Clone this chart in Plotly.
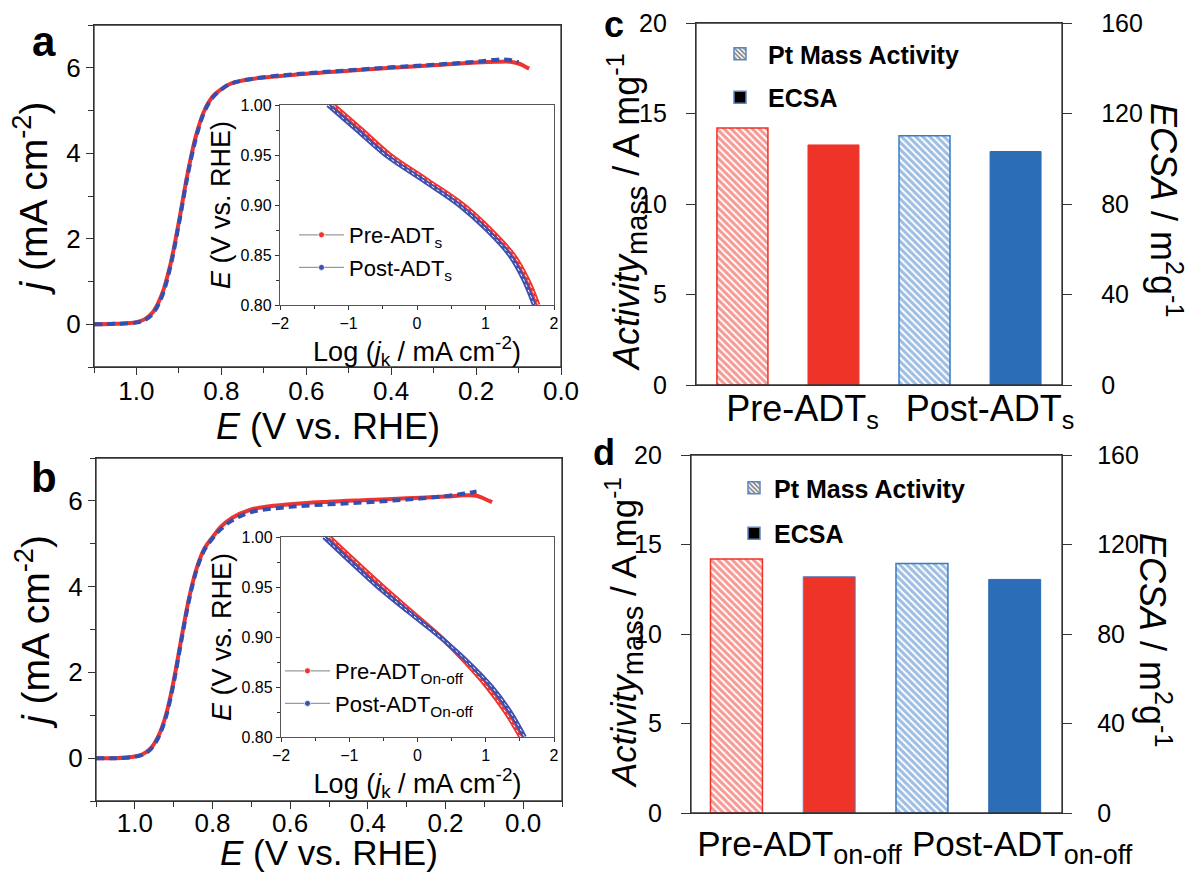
import plotly.graph_objects as go

FONT = "Liberation Sans, Arial, sans-serif"
RED = "#ee3430"
BLUE = "#3350b0"
BAR_RED = "#ee3329"
BAR_BLUE = "#2b6db6"
HATCH_BLUE = "#3b7cc6"
TAFEL_BLUE = "#3e4fae"
AX = "#333333"

# ---------------- Panel a: ORR polarisation curves ----------------
E_a_pre = [1.10, 1.05, 1.00, 0.98, 0.96, 0.94, 0.92, 0.90, 0.88, 0.86, 0.84, 0.82, 0.80,
           0.78, 0.75, 0.70, 0.60, 0.50, 0.40, 0.30, 0.20, 0.15, 0.12, 0.10, 0.085, 0.075]
j_a_pre = [0.00, 0.01, 0.05, 0.12, 0.30, 0.70, 1.40, 2.40, 3.50, 4.40, 5.00, 5.33, 5.50,
           5.62, 5.70, 5.77, 5.86, 5.93, 6.00, 6.06, 6.12, 6.14, 6.14, 6.10, 6.03, 5.98]
E_a_post = [1.10, 1.05, 1.00, 0.98, 0.96, 0.94, 0.92, 0.90, 0.88, 0.86, 0.84, 0.82, 0.80,
            0.78, 0.75, 0.70, 0.60, 0.50, 0.40, 0.30, 0.20, 0.15, 0.12, 0.10]
j_a_post = [0.00, 0.01, 0.04, 0.10, 0.27, 0.65, 1.35, 2.35, 3.45, 4.35, 4.97, 5.31, 5.49,
            5.62, 5.70, 5.78, 5.87, 5.94, 6.01, 6.07, 6.14, 6.19, 6.18, 6.13]

# inset a: Tafel plots
logj_a_pre = [-1.22, -0.80, -0.39, 0.15, 0.68, 1.08, 1.41, 1.62, 1.77]
E_tafel_a_pre = [1.000, 0.975, 0.950, 0.925, 0.900, 0.875, 0.850, 0.825, 0.800]
logj_a_post = [-1.30, -0.88, -0.46, 0.08, 0.61, 1.02, 1.35, 1.56, 1.71]
E_tafel_a_post = [1.000, 0.975, 0.950, 0.925, 0.900, 0.875, 0.850, 0.825, 0.800]

# ---------------- Panel b ----------------
E_b_pre = [1.10, 1.05, 1.00, 0.98, 0.96, 0.94, 0.92, 0.90, 0.88, 0.86, 0.84, 0.82, 0.80,
           0.78, 0.75, 0.70, 0.60, 0.50, 0.40, 0.30, 0.20, 0.15, 0.12, 0.10, 0.08]
j_b_pre = [0.00, 0.00, 0.04, 0.09, 0.22, 0.50, 1.00, 1.80, 2.80, 3.75, 4.45, 4.90, 5.15,
           5.38, 5.60, 5.80, 5.92, 5.98, 6.02, 6.06, 6.10, 6.13, 6.12, 6.05, 5.97]
E_b_post = [1.10, 1.05, 1.00, 0.98, 0.96, 0.94, 0.92, 0.90, 0.88, 0.86, 0.84, 0.82, 0.80,
            0.78, 0.75, 0.70, 0.60, 0.50, 0.40, 0.30, 0.20, 0.15, 0.12]
j_b_post = [0.00, 0.00, 0.03, 0.08, 0.20, 0.47, 0.96, 1.75, 2.75, 3.70, 4.42, 4.87, 5.12,
            5.33, 5.54, 5.74, 5.86, 5.92, 5.97, 6.03, 6.11, 6.17, 6.22]

logj_b_pre = [-1.29, -0.90, -0.50, -0.08, 0.34, 0.70, 1.02, 1.29, 1.51]
E_tafel_b_pre = [1.000, 0.975, 0.950, 0.925, 0.900, 0.875, 0.850, 0.825, 0.800]
logj_b_post = [-1.37, -0.98, -0.58, -0.13, 0.33, 0.74, 1.09, 1.36, 1.57]
E_tafel_b_post = [1.000, 0.975, 0.950, 0.925, 0.900, 0.875, 0.850, 0.825, 0.800]

# ---------------- Panels c, d: bars ----------------
slot_mass = [0, 2]
slot_ecsa = [1, 3]
c_mass = [14.2, 13.77]          # A mg^-1
c_ecsa = [106.1, 103.2]         # m2 g^-1
d_mass = [14.19, 13.94]
d_ecsa = [105.6, 104.4]
c_labels = ["Pre-ADT<sub>s</sub>", "Post-ADT<sub>s</sub>"]
d_labels = ["Pre-ADT<sub><span style='font-size:27px'>on-off</span></sub>",
            "Post-ADT<sub><span style='font-size:27px'>on-off</span></sub>"]
c_label_pos = [0.66, 2.72]
d_label_pos = [0.68, 3.08]

W, H = 1194, 872


def px_x(a, b):
    return [a / W, b / W]


def px_y(top, bottom):
    return [1 - bottom / H, 1 - top / H]


fig = go.Figure()

# ---- LSV traces ----
for E, j, col, dash, xa, ya in [
    (E_a_pre, j_a_pre, RED, None, "x", "y"),
    (E_a_post, j_a_post, BLUE, "8px,5px", "x", "y"),
    (E_b_pre, j_b_pre, RED, None, "x3", "y3"),
    (E_b_post, j_b_post, BLUE, "8px,5px", "x3", "y3"),
]:
    fig.add_trace(go.Scatter(x=E, y=j, mode="lines", line=dict(color=col, width=4, dash=dash, shape="spline"),
                             xaxis=xa, yaxis=ya, showlegend=False, hoverinfo="skip"))

# ---- Tafel insets ----
for lj, E, col, xa, ya in [
    (logj_a_pre, E_tafel_a_pre, RED, "x2", "y2"),
    (logj_a_post, E_tafel_a_post, TAFEL_BLUE, "x2", "y2"),
    (logj_b_pre, E_tafel_b_pre, RED, "x4", "y4"),
    (logj_b_post, E_tafel_b_post, TAFEL_BLUE, "x4", "y4"),
]:
    fig.add_trace(go.Scatter(x=lj, y=E, mode="lines", line=dict(color=col, width=4.5, shape="spline"),
                             xaxis=xa, yaxis=ya, showlegend=False))
    fig.add_trace(go.Scatter(x=lj, y=E, mode="lines", line=dict(color="white", width=1, dash="dot", shape="spline"),
                             xaxis=xa, yaxis=ya, showlegend=False, hoverinfo="skip"))

# inset legends
for name, col, leg, xa, ya, grp in [
    ("Pre-ADT<sub>s</sub>", RED, "legend", "x2", "y2", "g1"),
    ("Post-ADT<sub>s</sub>", TAFEL_BLUE, "legend", "x2", "y2", "g2"),
    ("Pre-ADT<sub>On-off</sub>", RED, "legend2", "x4", "y4", "g1"),
    ("Post-ADT<sub>On-off</sub>", TAFEL_BLUE, "legend2", "x4", "y4", "g2"),
]:
    fig.add_trace(go.Scatter(x=[None], y=[None], mode="lines+markers", name=name,
                             line=dict(color="#9a9a9a", width=1.2),
                             marker=dict(color=col, size=6, line=dict(color="white", width=0.8)),
                             xaxis=xa, yaxis=ya, legend=leg, legendgroup=grp))


# ---- bar panels ----
def add_bars(mass, ecsa, xa, yl, yr, leg, ecsa_edge):
    fig.add_trace(go.Bar(x=slot_mass[:1], y=mass[:1], width=0.56, xaxis=xa, yaxis=yl, showlegend=False,
                         marker=dict(color="white", line=dict(color=BAR_RED, width=1.5),
                                     pattern=dict(shape="\\", fgcolor=BAR_RED, bgcolor="white", size=5, solidity=0.6))))
    fig.add_trace(go.Bar(x=slot_mass[1:], y=mass[1:], width=0.56, xaxis=xa, yaxis=yl, showlegend=False,
                         marker=dict(color="white", line=dict(color=HATCH_BLUE, width=1.5),
                                     pattern=dict(shape="\\", fgcolor=HATCH_BLUE, bgcolor="white", size=5, solidity=0.6))))
    fig.add_trace(go.Bar(x=slot_ecsa[:1], y=ecsa[:1], width=0.56, xaxis=xa, yaxis=yr, showlegend=False,
                         marker=dict(color=BAR_RED, line=dict(color=ecsa_edge or BAR_RED, width=1))))
    fig.add_trace(go.Bar(x=slot_ecsa[1:], y=ecsa[1:], width=0.56, xaxis=xa, yaxis=yr, showlegend=False,
                         marker=dict(color=BAR_BLUE, line=dict(color=BAR_BLUE, width=1))))
    # legend entries
    fig.add_trace(go.Bar(x=[None], y=[None], name="<b>Pt Mass Activity</b>", xaxis=xa, yaxis=yl, legend=leg,
                         legendgroup="m",
                         marker=dict(color="white", line=dict(color="#5b86c4", width=1.5),
                                     pattern=dict(shape="\\", fgcolor="black", bgcolor="white", size=4, solidity=0.5))))
    fig.add_trace(go.Bar(x=[None], y=[None], name="<b>ECSA</b>", xaxis=xa, yaxis=yl, legend=leg,
                         legendgroup="e",
                         marker=dict(color="black", line=dict(color="#5b86c4", width=1.5))))


add_bars(c_mass, c_ecsa, "x5", "y5", "y6", "legend3", None)
add_bars(d_mass, d_ecsa, "x6", "y7", "y8", "legend4", "#5b7fc0")

base_axis = dict(showline=True, linecolor=AX, linewidth=1.3, mirror=True, showgrid=False, zeroline=False,
                 ticks="outside", tickcolor=AX, tickwidth=1.3, automargin=False)

main_font = dict(family=FONT, size=26, color="black")
bar_tick = dict(family=FONT, size=25, color="black")
title_font = dict(family=FONT, size=39, color="black")
inset_tick = dict(family=FONT, size=16, color="black")
inset_title = dict(family=FONT, size=27, color="black")
act_title = "<i>Activity</i><sub><span style='font-size:29px'>mass</span></sub> / A mg<sup>-1</sup>"
ecsa_title = "<i>ECSA</i> / m<sup>2</sup>g<sup>-1</sup>"
E_title = "<i>E</i> (V vs. RHE)"


def ann(text, x, y, size, angle=0, bold=False):
    return dict(text=f"<b>{text}</b>" if bold else text, x=x / W, y=1 - y / H, xref="paper", yref="paper",
                xanchor="center", yanchor="middle", showarrow=False, textangle=angle,
                font=dict(family=FONT, size=size, color="black"))


layout = dict(
    width=W, height=H, margin=dict(l=0, r=0, t=0, b=0, autoexpand=False),
    paper_bgcolor="white", plot_bgcolor="rgba(0,0,0,0)",
    font=dict(family=FONT, color="black"),
    barmode="overlay",
    # panel a
    xaxis=dict(base_axis, domain=px_x(94, 561), anchor="y", range=[1.1, 0.0], dtick=0.2, tick0=0,
               tickformat=".1f", ticklen=7, tickfont=main_font, ticklabelstandoff=-6,
               minor=dict(dtick=0.1, ticks="outside", ticklen=5, tickcolor=AX)),
    yaxis=dict(base_axis, domain=px_y(25, 367), anchor="x", range=[-1, 7], dtick=2, tick0=0, ticklen=7,
               tickfont=main_font, minor=dict(dtick=1, ticks="outside", ticklen=5, tickcolor=AX),
               title=dict(text="<i>j</i> (mA cm<sup>-2</sup>)", font=title_font, standoff=6)),
    # inset a
    xaxis2=dict(base_axis, domain=px_x(280, 554), anchor="y2", range=[-2, 2], dtick=1, ticklen=4,
                linecolor="#555", tickfont=inset_tick, minor=dict(dtick=0.5, ticks="outside", ticklen=3),
                title=dict(text="Log (<i>j</i><sub>k</sub> / mA cm<sup>-2</sup>)", font=inset_title, standoff=0)),
    yaxis2=dict(base_axis, domain=px_y(105, 305), anchor="x2", range=[0.80, 1.00], dtick=0.05,
                tickformat=".2f", ticklen=4, linecolor="#555", tickfont=inset_tick,
                minor=dict(dtick=0.025, ticks="outside", ticklen=3),
                title=dict(text=E_title, font=inset_title, standoff=2)),
    # panel b
    xaxis3=dict(base_axis, domain=px_x(96, 562), anchor="y3", range=[1.1, -0.1], dtick=0.2, tick0=0,
                tickformat=".1f", ticklen=7, tickfont=main_font, ticklabelstandoff=-8,
                minor=dict(dtick=0.1, ticks="outside", ticklen=5, tickcolor=AX)),
    yaxis3=dict(base_axis, domain=px_y(458, 801), anchor="x3", range=[-1, 7], dtick=2, tick0=0, ticklen=7,
                tickfont=main_font, minor=dict(dtick=1, ticks="outside", ticklen=5, tickcolor=AX),
                title=dict(text="<i>j</i> (mA cm<sup>-2</sup>)", font=title_font, standoff=6)),
    # inset b
    xaxis4=dict(base_axis, domain=px_x(281, 554), anchor="y4", range=[-2, 2], dtick=1, ticklen=4,
                linecolor="#555", tickfont=inset_tick, minor=dict(dtick=0.5, ticks="outside", ticklen=3),
                title=dict(text="Log (<i>j</i><sub>k</sub> / mA cm<sup>-2</sup>)", font=inset_title, standoff=0)),
    yaxis4=dict(base_axis, domain=px_y(537, 737), anchor="x4", range=[0.80, 1.00], dtick=0.05,
                tickformat=".2f", ticklen=4, linecolor="#555", tickfont=inset_tick,
                minor=dict(dtick=0.025, ticks="outside", ticklen=3),
                title=dict(text=E_title, font=inset_title, standoff=2)),
    # panel c
    xaxis5=dict(showline=True, linecolor=AX, linewidth=1.3, mirror=True, showgrid=False, zeroline=False,
                automargin=False, domain=px_x(696, 1062), anchor="y5", range=[-0.51, 3.51], ticks="", ticklen=0,
                tickvals=c_label_pos, ticktext=c_labels, tickfont=dict(family=FONT, size=36, color="black"),
                ticklabelstandoff=-8),
    yaxis5=dict(base_axis, mirror=False, domain=px_y(23, 385), anchor="x5", range=[0, 20], dtick=5, ticklen=9,
                tickfont=bar_tick, ticklabelstandoff=14),
    yaxis6=dict(base_axis, mirror=False, overlaying="y5", side="right", anchor="x5", range=[0, 160], dtick=40,
                ticklen=9, tickfont=bar_tick, ticklabelstandoff=24),
    # panel d
    xaxis6=dict(showline=True, linecolor=AX, linewidth=1.3, mirror=True, showgrid=False, zeroline=False,
                automargin=False, domain=px_x(691, 1062), anchor="y7", range=[-0.49, 3.51], ticks="", ticklen=0,
                tickvals=d_label_pos, ticktext=d_labels, tickfont=dict(family=FONT, size=35, color="black"),
                ticklabelstandoff=0),
    yaxis7=dict(base_axis, mirror=False, domain=px_y(455, 813), anchor="x6", range=[0, 20], dtick=5, ticklen=9,
                tickfont=bar_tick, ticklabelstandoff=14),
    yaxis8=dict(base_axis, mirror=False, overlaying="y7", side="right", anchor="x6", range=[0, 160], dtick=40,
                ticklen=9, tickfont=bar_tick, ticklabelstandoff=20),
    legend=dict(x=294 / W, y=1 - 214 / H, xanchor="left", yanchor="top", bgcolor="rgba(0,0,0,0)",
                font=dict(family=FONT, size=22, color="black"), itemwidth=45, tracegroupgap=1),
    legend2=dict(x=280 / W, y=1 - 650 / H, xanchor="left", yanchor="top", bgcolor="rgba(0,0,0,0)",
                 font=dict(family=FONT, size=22, color="black"), itemwidth=45, tracegroupgap=1),
    legend3=dict(x=712 / W, y=1 - 31 / H, xanchor="left", yanchor="top", bgcolor="rgba(0,0,0,0)",
                 font=dict(family=FONT, size=25, color="black"), itemwidth=46, tracegroupgap=8),
    legend4=dict(x=734 / W, y=1 - 465 / H, xanchor="left", yanchor="top", bgcolor="rgba(0,0,0,0)",
                 font=dict(family=FONT, size=25, color="black"), tracegroupgap=10),
    shapes=[
        dict(type="rect", xref=f"{xa} domain", yref=f"{ya} domain", x0=0, x1=1, y0=0, y1=1,
             line=dict(color=AX, width=1.3), layer="above")
        for xa, ya in [("x", "y"), ("x3", "y3"), ("x5", "y5"), ("x6", "y7")]
    ],
    annotations=[
        ann("a", 44, 42, 42, bold=True),
        ann("b", 44, 477, 42, bold=True),
        ann("c", 614, 24, 36, bold=True),
        ann("d", 604, 452, 36, bold=True),
        ann(E_title, 328, 426, 36),
        ann(E_title, 329, 852, 35),
        ann(act_title, 627, 212, 36, angle=-90),
        ann(act_title, 624, 633, 35, angle=-90),
        ann(ecsa_title, 1166, 210, 36, angle=90),
        ann(ecsa_title, 1155, 640, 36, angle=90),
    ],
)
fig.update_layout(**layout)
fig.write_html("out.html")
